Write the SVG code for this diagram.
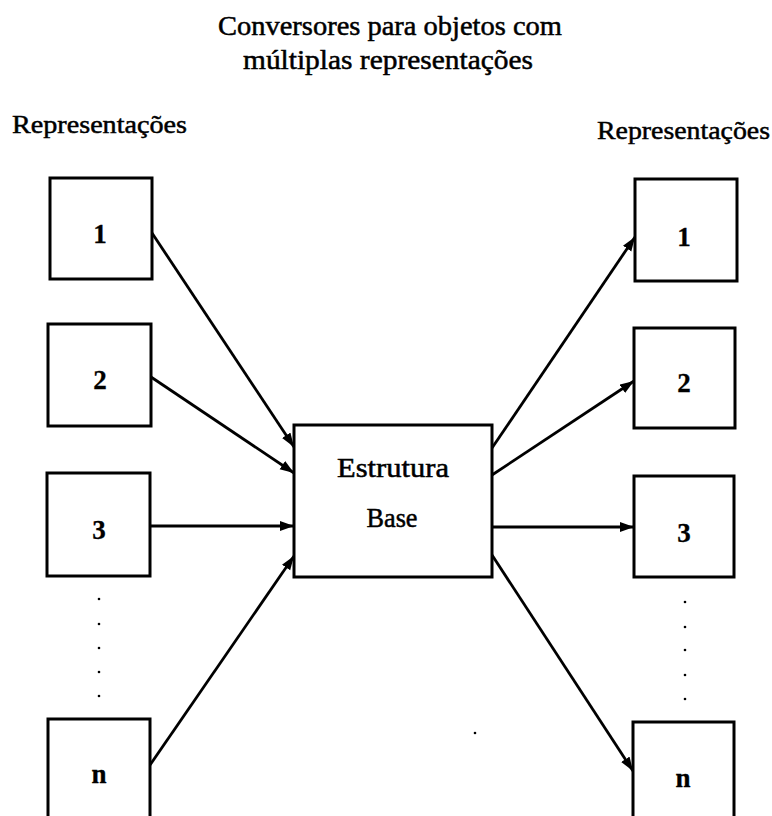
<svg xmlns="http://www.w3.org/2000/svg" width="772" height="816" viewBox="0 0 772 816">
  <style>
    .box { fill: #ffffff; stroke: #000000; stroke-width: 3; }
    .edge { fill: none; stroke: #000000; stroke-width: 2.8; marker-end: url(#head); }
    .txt { font-family: "Liberation Serif", "DejaVu Serif", serif; fill: #000000; stroke: #000000; stroke-width: 0.5; }
    .title { font-size: 27px; text-anchor: middle; }
    .side { font-size: 26px; }
    .num { font-size: 27px; font-weight: bold; text-anchor: middle; stroke-width: 0.3; }
    .center { font-size: 27px; text-anchor: middle; }
    .dot { fill: #000000; }
  </style>
  <defs>
    <marker id="head" markerUnits="userSpaceOnUse" markerWidth="16" markerHeight="12" refX="14" refY="5" orient="auto">
      <path d="M0,0 L14,5 L0,10 Z" fill="#000000"/>
    </marker>
  </defs>

  <rect width="772" height="816" fill="#ffffff"/>

  <!-- title -->
  <text class="txt title" x="390" y="35" textLength="344" lengthAdjust="spacingAndGlyphs">Conversores para objetos com</text>
  <text class="txt title" x="388" y="69" textLength="290" lengthAdjust="spacingAndGlyphs">múltiplas representações</text>

  <!-- column headings -->
  <text class="txt side" x="12" y="133" textLength="175" lengthAdjust="spacingAndGlyphs">Representações</text>
  <text class="txt side" x="597" y="139" textLength="173" lengthAdjust="spacingAndGlyphs">Representações</text>

  <!-- connectors -->
  <g id="connectors">
    <line class="edge" x1="152" y1="233" x2="294" y2="447"/>
    <line class="edge" x1="151" y1="377" x2="294" y2="473"/>
    <line class="edge" x1="150" y1="526" x2="294" y2="526"/>
    <line class="edge" x1="150" y1="765" x2="294" y2="556"/>
    <line class="edge" x1="492" y1="448" x2="635" y2="237"/>
    <line class="edge" x1="492" y1="475" x2="634" y2="381"/>
    <line class="edge" x1="492" y1="527" x2="634" y2="527"/>
    <line class="edge" x1="492" y1="555" x2="633" y2="771"/>
  </g>

  <!-- left column -->
  <g id="left-1">
    <rect class="box" x="50" y="178" width="102" height="101"/>
    <text class="txt num" x="100" y="243">1</text>
  </g>
  <g id="left-2">
    <rect class="box" x="48" y="324" width="103" height="102"/>
    <text class="txt num" x="100" y="389">2</text>
  </g>
  <g id="left-3">
    <rect class="box" x="47" y="473" width="103" height="103"/>
    <text class="txt num" x="99" y="539">3</text>
  </g>
  <g id="left-dots">
    <circle class="dot" cx="99" cy="599" r="1.3"/>
    <circle class="dot" cx="99" cy="624" r="1.3"/>
    <circle class="dot" cx="99" cy="648" r="1.3"/>
    <circle class="dot" cx="99" cy="672" r="1.3"/>
    <circle class="dot" cx="99" cy="696" r="1.3"/>
  </g>
  <g id="left-n">
    <rect class="box" x="48" y="719" width="102" height="110"/>
    <text class="txt num" x="99" y="783">n</text>
  </g>

  <!-- centre -->
  <g id="base">
    <rect class="box" x="294" y="425" width="198" height="152"/>
    <text class="txt center" x="393" y="477" textLength="112" lengthAdjust="spacingAndGlyphs">Estrutura</text>
    <text class="txt center" x="392" y="527" textLength="51" lengthAdjust="spacingAndGlyphs">Base</text>
  </g>

  <!-- right column -->
  <g id="right-1">
    <rect class="box" x="635" y="179" width="102" height="102"/>
    <text class="txt num" x="684" y="246">1</text>
  </g>
  <g id="right-2">
    <rect class="box" x="634" y="328" width="101" height="100"/>
    <text class="txt num" x="684" y="392">2</text>
  </g>
  <g id="right-3">
    <rect class="box" x="634" y="476" width="100" height="101"/>
    <text class="txt num" x="684" y="542">3</text>
  </g>
  <g id="right-dots">
    <circle class="dot" cx="685" cy="602" r="1.3"/>
    <circle class="dot" cx="685" cy="627" r="1.3"/>
    <circle class="dot" cx="685" cy="650" r="1.3"/>
    <circle class="dot" cx="685" cy="675" r="1.3"/>
    <circle class="dot" cx="685" cy="699" r="1.3"/>
  </g>
  <g id="right-n">
    <rect class="box" x="633" y="722" width="101" height="110"/>
    <text class="txt num" x="683" y="787">n</text>
  </g>

  <circle class="dot" cx="475" cy="733" r="1.3"/>
</svg>
